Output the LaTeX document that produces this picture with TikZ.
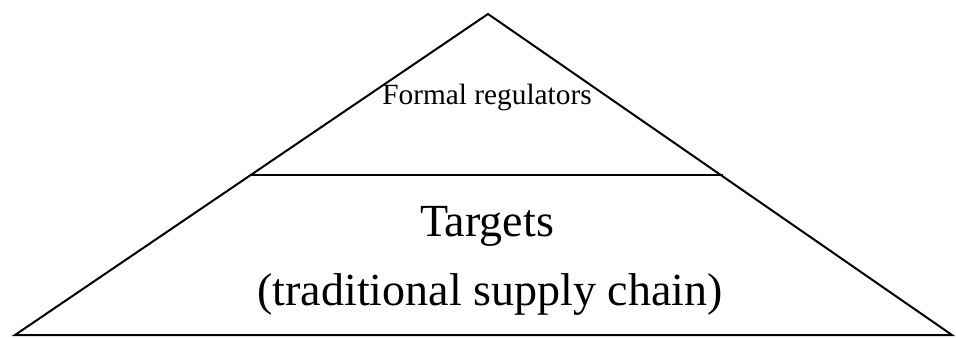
\documentclass[tikz,border=0pt]{standalone}
\usepackage{fontspec}
\setmainfont{Liberation Serif}
\usepackage{tikz}
\usetikzlibrary{positioning}

\begin{document}
\begin{tikzpicture}[x=0.75pt,y=-0.75pt,line width=1.5pt,
	small text/.style={anchor=base,inner sep=0pt,font=\fontsize{22}{26}\selectfont},
	big text/.style={anchor=base,inner sep=0pt,font=\fontsize{34.5}{40}\selectfont}]
	\useasboundingbox (0,0) rectangle (956,338);
	
	\coordinate (apex) at (488,14);
	\coordinate (baseL) at (15,335);
	\coordinate (baseR) at (952,335);
	\coordinate (midL) at (251,175);
	\coordinate (midR) at (723,175);
	
	\draw (apex) -- (baseR) -- (baseL) -- cycle;
	\draw (midL) -- (midR);
	
	\node[small text] (regulators) at (487,105) {Formal regulators};
	\node[big text] (targets) at (487,237) {Targets};
	\node[big text] (chain) at (490,305) {(traditional supply chain)};
\end{tikzpicture}
\end{document}
